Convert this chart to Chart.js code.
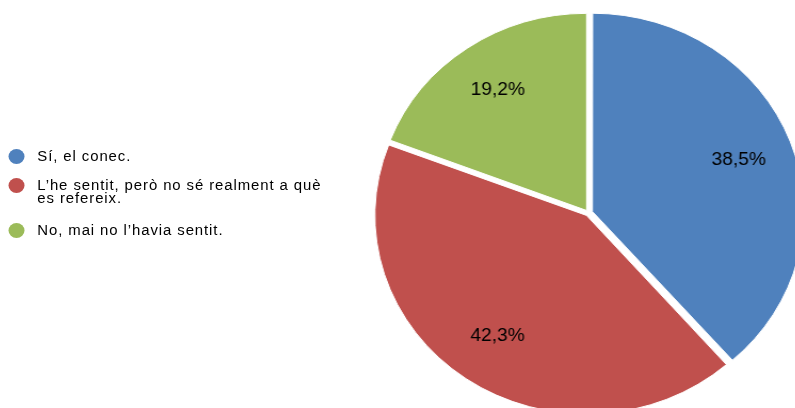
<!DOCTYPE html>
<html>
<head>
<meta charset="utf-8">
<script src="https://cdn.jsdelivr.net/npm/chart.js@4/dist/chart.umd.min.js"></script>
<style>
  html, body { margin: 0; padding: 0; background: #fff; overflow: hidden; width: 795px; height: 408px; }
  #stage { position: absolute; left: 0; top: 0; width: 746px; height: 408px; transform: scaleX(1.066); transform-origin: 0 0; }
  #legend { position: absolute; left: 8px; top: 150px; width: 307px; font-family: "Liberation Sans", Arial, sans-serif; font-size: 14px; letter-spacing: 0.85px; line-height: 13px; color: #000; }
  #legend .item { position: relative; padding-left: 27px; margin-bottom: 16px; }
  #legend .item:nth-child(2) { margin-bottom: 19px; }
  #legend .dot { position: absolute; left: 0; top: -1px; width: 15px; height: 15px; border-radius: 50%; }
  #pieBox { position: absolute; left: 332px; top: -7px; width: 440px; height: 440px; }
</style>
</head>
<body>
<div id="stage">
  <div id="legend"></div>
  <div id="pieBox"><canvas id="pie"></canvas></div>
</div>
<script>
var categories = ["Sí, el conec.", "L’he sentit, però no sé realment a què es refereix.", "No, mai no l’havia sentit."];
var values = [38.5, 42.3, 19.2];
var valueLabels = ["38,5%", "42,3%", "19,2%"];
var colors = ["#4F81BD", "#C0504D", "#9BBB59"];
// chart.js draws arcs shifted by offset/4
var explode = [16, 12, 12];

// legend (html, built from the same arrays)
var legend = document.getElementById('legend');
categories.forEach(function (c, i) {
    var item = document.createElement('div');
    item.className = 'item';
    var dot = document.createElement('span');
    dot.className = 'dot';
    dot.style.background = colors[i];
    item.appendChild(dot);
    item.appendChild(document.createTextNode(c));
    legend.appendChild(item);
});

// percentage labels inside the slices
var sliceLabels = {
    id: 'sliceLabels',
    afterDatasetsDraw: function (chart) {
        var ctx = chart.ctx;
        var meta = chart.getDatasetMeta(0);
        ctx.save();
        ctx.font = '18px "Liberation Sans", Arial, sans-serif';
        ctx.fillStyle = '#000';
        ctx.textAlign = 'center';
        ctx.textBaseline = 'middle';
        meta.data.forEach(function (arc, i) {
            var a = (arc.startAngle + arc.endAngle) / 2;
            var r = arc.outerRadius * 0.745 + explode[i] / 4;
            ctx.fillText(valueLabels[i], arc.x + Math.cos(a) * r, arc.y + Math.sin(a) * r);
        });
        ctx.restore();
    }
};

var ctx = document.getElementById("pie").getContext('2d');
var chart = new Chart(ctx, {
    type: 'pie',
    data: {
        labels: categories,
        datasets: [{
            data: values,
            backgroundColor: colors,
            borderColor: '#fff',
            borderWidth: 1,
            offset: explode
        }]
    },
    options: {
        responsive: true,
        maintainAspectRatio: false,
        animation: false,
        radius: 197,
        plugins: {
            legend: { display: false },
            tooltip: { enabled: false }
        }
    },
    plugins: [sliceLabels]
});
</script>
</body>
</html>
